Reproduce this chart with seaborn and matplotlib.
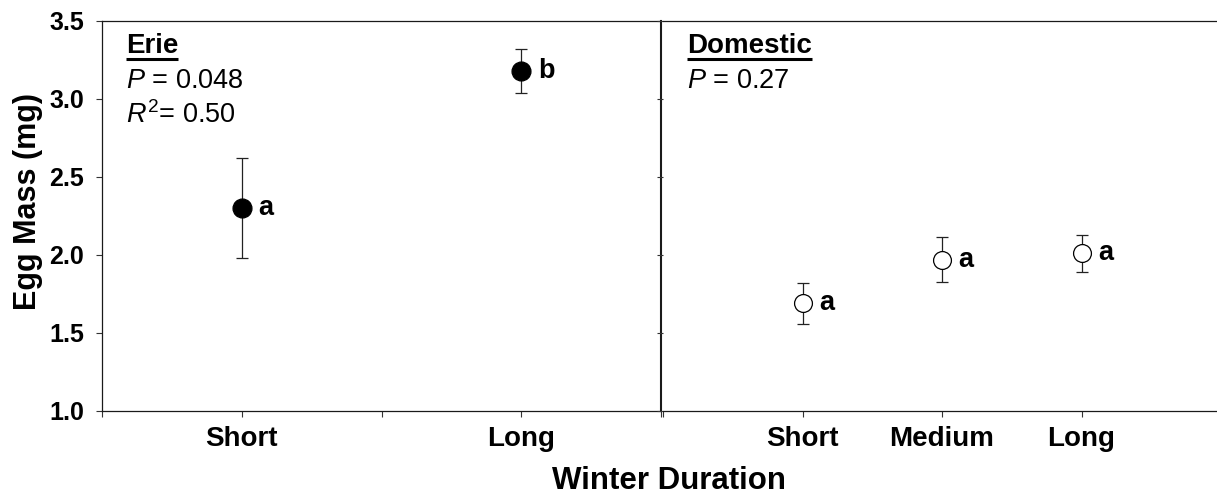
import numpy as np
import pandas as pd
import matplotlib
matplotlib.use("Agg")
import matplotlib.pyplot as plt
from matplotlib.lines import Line2D
import seaborn as sns

# Egg mass (mg), mean and standard error per winter-duration group
erie_groups = ["Short", "Long"]
erie_mean = [2.30, 3.18]
erie_se = [0.32, 0.14]
erie_letters = ["a", "b"]

dom_groups = ["Short", "Medium", "Long"]
dom_mean = [1.69, 1.97, 2.01]
dom_se = [0.13, 0.145, 0.12]
dom_letters = ["a", "a", "a"]

y_ticks = [1.0, 1.5, 2.0, 2.5, 3.0, 3.5]

sns.set_theme(style="ticks")
plt.rcParams["font.family"] = ["Liberation Sans", "DejaVu Sans"]
plt.rcParams["mathtext.fontset"] = "custom"
plt.rcParams["mathtext.rm"] = "Liberation Sans"
plt.rcParams["mathtext.it"] = "Liberation Sans:italic"
plt.rcParams["mathtext.bf"] = "Liberation Sans:bold"
for key in ["text.color", "axes.labelcolor", "xtick.color", "ytick.color"]:
    plt.rcParams[key] = "black"

W, H = 1217, 495
fig = plt.figure(figsize=(W / 100, H / 100), dpi=100)
ax1 = fig.add_axes([102 / W, 84 / H, 559 / W, 390 / H])
ax2 = fig.add_axes([663 / W, 84 / H, 558 / W, 390 / H])

erie = pd.DataFrame({"group": erie_groups, "mean": erie_mean, "se": erie_se,
                     "letter": erie_letters})
erie["pos"] = np.arange(len(erie)) * 2 + 1
dom = pd.DataFrame({"group": dom_groups, "mean": dom_mean, "se": dom_se,
                    "letter": dom_letters})
dom["pos"] = np.arange(len(dom)) + 1


def draw_panel(ax, df, face, size):
    ax.errorbar(df["pos"], df["mean"], yerr=df["se"], fmt="none",
                ecolor="#222222", elinewidth=0.9, capsize=4.5, capthick=0.9,
                zorder=2)
    sns.scatterplot(data=df, x="pos", y="mean", ax=ax, s=size, color=face,
                    edgecolor="black", linewidth=0.9, zorder=3, legend=False)
    for _, row in df.iterrows():
        ax.annotate(row["letter"], (row["pos"], row["mean"]),
                    xytext=(12, 0), textcoords="offset points",
                    ha="left", va="center", fontsize=19.5, fontweight="bold")
    ax.set_xlim(0, 4)
    ax.set_ylim(1.0, 3.5)
    ax.set_yticks(y_ticks)
    ax.set_xlabel("")
    ax.set_ylabel("")
    for sp in ax.spines.values():
        sp.set_visible(True)
        sp.set_color("#1a1a1a")
        sp.set_linewidth(0.9)
    ax.tick_params(axis="both", direction="out", length=4, width=0.8,
                   color="#333333")
    ax.tick_params(axis="x", pad=7, labelsize=20)
    ax.tick_params(axis="y", pad=9, labelsize=18)


draw_panel(ax1, erie, "black", 185)
draw_panel(ax2, dom, "white", 165)

ax1.spines["right"].set_linewidth(1.5)
ax2.spines["left"].set_visible(False)
ax2.spines["right"].set_visible(False)

ax1.set_xticks(range(5))
ax1.set_xticklabels(["", erie_groups[0], "", erie_groups[1], ""],
                    fontweight="bold")
ax1.set_yticklabels([f"{v:.1f}" for v in y_ticks], fontweight="bold")
ax2.set_xticks(range(5))
ax2.set_xticklabels([""] + dom_groups + [""], fontweight="bold")
ax2.set_yticklabels([])


def panel_text(ax, title, lines):
    x0 = 24 / 559
    base = (411 - 53) / 390
    t = ax.text(x0, base, title, transform=ax.transAxes, fontsize=20,
                fontweight="bold", va="baseline", ha="left")
    for i, s in enumerate(lines):
        ax.text(x0, base - (i + 1) * 35 / 390, s, transform=ax.transAxes,
                fontsize=19.5, va="baseline", ha="left")
    fig.canvas.draw()
    bb = t.get_window_extent(fig.canvas.get_renderer())
    inv = ax.transAxes.inverted()
    (xa, _), (xb, _) = inv.transform([(bb.x0, 0), (bb.x1, 0)])
    uy = base - 6 / 390
    ax.add_line(Line2D([xa, xb], [uy, uy], transform=ax.transAxes,
                       color="black", linewidth=2.2, solid_capstyle="butt"))


panel_text(ax1, "Erie", [r"$P$ = 0.048", r"$R^{2}$= 0.50"])
panel_text(ax2, "Domestic", [r"$P$ = 0.27"])

fig.text(669 / W, 6 / H, "Winter Duration", ha="center", va="baseline",
         fontsize=22.5, fontweight="bold")
fig.text(28 / W, (H - 202) / H, "Egg Mass (mg)", ha="center", va="center",
         rotation=90, fontsize=22, fontweight="bold")

fig.savefig("out.png", dpi=100)
